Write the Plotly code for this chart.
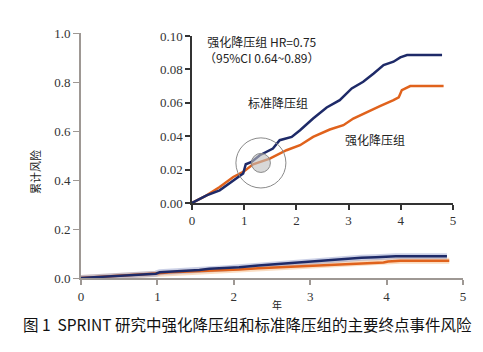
import plotly.graph_objects as go

# Data (years, cumulative risk)
std_t = [0, 0.28, 0.53, 0.79, 0.98, 1.03, 1.14, 1.30, 1.55, 1.68, 1.91, 2.07, 2.32, 2.58,
         2.83, 3.06, 3.28, 3.48, 3.67, 3.86, 3.99, 4.12, 4.79]
std_r = [0, 0.0046, 0.0076, 0.0136, 0.0176, 0.0232, 0.0246, 0.0286, 0.0326, 0.0376, 0.0396,
         0.0436, 0.0506, 0.0572, 0.0616, 0.0686, 0.0726, 0.0776, 0.0826, 0.0846, 0.0872,
         0.0886, 0.0886]
int_t = [0, 0.28, 0.53, 0.79, 0.98, 1.17, 1.49, 1.81, 2.07, 2.32, 2.64, 2.90, 3.09, 3.35,
         3.60, 3.86, 3.96, 4.02, 4.18, 4.82]
int_r = [0, 0.0046, 0.0096, 0.0156, 0.0186, 0.0232, 0.0266, 0.0316, 0.0346, 0.0396, 0.044,
         0.0466, 0.0506, 0.0546, 0.058, 0.0616, 0.0632, 0.0676, 0.070, 0.070]

main_yticks = [0.0, 0.2, 0.4, 0.6, 0.8, 1.0]
main_ylabels = ["0.0", "0.2", "0.4", "0.6", "0.8", "1.0"]
inset_yticks = [0.0, 0.02, 0.04, 0.06, 0.08, 0.10]
inset_ylabels = ["0.00", "0.02", "0.04", "0.06", "0.08", "0.10"]
xticks = [0, 1, 2, 3, 4, 5]

NAVY = "#1e2a68"
ORANGE = "#e0621c"
NAVY_L = "rgba(140,150,200,0.45)"
ORANGE_L = "rgba(245,180,120,0.45)"

# plot-area geometry in pixels (for placing text)
L, R, T, B = 81, 463, 33, 278


def px(x):
    return (x - L) / (R - L)


def py(y):
    return (B - y) / (B - T)


fig = go.Figure()
# main chart
fig.add_trace(go.Scatter(x=int_t, y=int_r, mode="lines", line=dict(color=ORANGE_L, width=6),
                         xaxis="x", yaxis="y", hoverinfo="skip"))
fig.add_trace(go.Scatter(x=std_t, y=std_r, mode="lines", line=dict(color=NAVY_L, width=6),
                         xaxis="x", yaxis="y", hoverinfo="skip"))
fig.add_trace(go.Scatter(x=int_t, y=int_r, mode="lines", line=dict(color=ORANGE, width=2.5),
                         xaxis="x", yaxis="y"))
fig.add_trace(go.Scatter(x=std_t, y=std_r, mode="lines", line=dict(color=NAVY, width=2.5),
                         xaxis="x", yaxis="y"))
# inset
fig.add_trace(go.Scatter(x=int_t, y=int_r, mode="lines", line=dict(color=ORANGE, width=2.5),
                         xaxis="x2", yaxis="y2"))
fig.add_trace(go.Scatter(x=std_t, y=std_r, mode="lines", line=dict(color=NAVY, width=2.5),
                         xaxis="x2", yaxis="y2"))

tickfont = dict(family="Liberation Serif", size=13, color="#333333")

fig.update_layout(
    width=483, height=352,
    margin=dict(l=L, r=483 - R, t=T, b=352 - B),
    paper_bgcolor="white", plot_bgcolor="rgba(0,0,0,0)",
    showlegend=False,
    xaxis=dict(range=[0, 5], tickvals=xticks, ticks="outside", ticklen=5, tickwidth=2,
               tickcolor="#9e9894", showline=True, linecolor="#9e9894", linewidth=2,
               showgrid=False, zeroline=False, tickfont=tickfont),
    yaxis=dict(range=[0, 1], tickvals=main_yticks, ticktext=main_ylabels, ticks="outside",
               ticklen=6, tickwidth=1, tickcolor="#9e9894", showline=True,
               linecolor="#9e9894", linewidth=2, showgrid=False, zeroline=False,
               tickfont=tickfont),
    xaxis2=dict(domain=[px(192), px(453)], anchor="y2", range=[0, 5], tickvals=xticks,
                ticks="outside", ticklen=5, tickwidth=1.5, tickcolor="#333333", showline=True,
                linecolor="#333333", linewidth=1.5, showgrid=False, zeroline=False,
                tickfont=tickfont),
    yaxis2=dict(domain=[py(203), py(36)], anchor="x2", range=[0, 0.10],
                tickvals=inset_yticks, ticktext=inset_ylabels, ticks="outside", ticklen=5,
                tickwidth=1.5, tickcolor="#333333", showline=True, linecolor="#333333",
                linewidth=1.5, showgrid=False, zeroline=False, tickfont=tickfont),
)

# circles in inset
cx, cy = 1.32, 0.024
fig.add_shape(type="circle", xref="x2", yref="y2", x0=cx - 0.479, x1=cx + 0.479,
              y0=cy - 0.015, y1=cy + 0.015, line=dict(color="#8a8a8a", width=1),
              fillcolor="rgba(0,0,0,0)", layer="above")
fig.add_shape(type="circle", xref="x2", yref="y2", x0=cx - 0.182, x1=cx + 0.182,
              y0=cy - 0.0057, y1=cy + 0.0057, line=dict(color="#8a8a8a", width=1),
              fillcolor="rgba(190,190,190,0.6)", layer="above")

cjk = "Noto Sans CJK SC"
ann_font = dict(family=cjk, size=12, color="#222222")
anns = [
    dict(text="强化降压组 HR=0.75<br>（95%CI 0.64~0.89）", x=262, y=49.5),
    dict(text="标准降压组", x=278, y=102),
    dict(text="强化降压组", x=375, y=139),
]
for a in anns:
    fig.add_annotation(text=a["text"], x=px(a["x"]), y=py(a["y"]), xref="paper",
                       yref="paper", showarrow=False, font=ann_font,
                       xanchor="center", yanchor="middle", align="center")

fig.add_annotation(text="累计风险", x=px(35), y=py(172), xref="paper", yref="paper",
                   showarrow=False, textangle=-90, font=dict(family=cjk, size=11, color="#222"),
                   xanchor="center", yanchor="middle")
fig.add_annotation(text="年", x=px(277), y=py(304), xref="paper", yref="paper",
                   showarrow=False, font=dict(family=cjk, size=10, color="#222"),
                   xanchor="center", yanchor="middle")
fig.add_annotation(text="图 1  SPRINT 研究中强化降压组和标准降压组的主要终点事件风险",
                   x=px(21), y=py(324), xref="paper", yref="paper",
                   showarrow=False, font=dict(family=cjk, size=15.5, color="#111"),
                   xanchor="left", yanchor="middle")

fig.write_html("out.html")
